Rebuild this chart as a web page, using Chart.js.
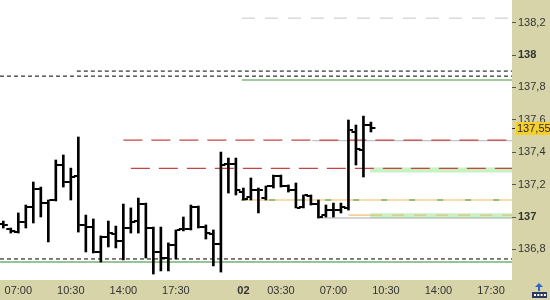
<!DOCTYPE html>
<html><head><meta charset="utf-8">
<script src="https://cdn.jsdelivr.net/npm/chart.js@4"></script>
<style>html,body{margin:0;padding:0;background:#fff;overflow:hidden}#wrap{width:550px;height:300px;position:relative}</style>
</head><body><div id="wrap"><canvas id="c"></canvas></div>
<script>
// ---- data (30-minute bars, x = bar index; 0 = day-1 07:00) ----
const barIndex = [-2,-1,0,1,2,3,4,5,6,7,8,9,10,11,12,13,14,15,16,17,18,19,20,21,22,23,24,25,26,27,28,29,30,31,32,33,34,35,36,37,38,39,40,41,42,43,44,45,46,47];
const openV  = [136.957,136.926,136.907,136.969,137.062,137.173,137.086,137.105,137.321,137.216,137.253,136.951,136.938,136.784,136.877,136.895,136.852,136.932,136.975,137.080,136.932,136.784,136.747,136.827,136.926,136.926,137.062,136.938,136.895,136.833,137.327,137.327,137.154,137.123,137.167,137.117,137.191,137.253,137.191,137.167,137.062,137.130,137.080,137.012,137.043,137.043,137.056,137.525,137.414,137.568];
const highV  = [136.975,136.932,137.025,137.074,137.216,137.185,137.105,137.352,137.383,137.302,137.494,137.012,136.988,136.883,136.975,136.944,137.080,137.056,137.117,137.086,136.938,136.938,136.840,136.920,137.000,137.074,137.068,136.951,136.920,137.401,137.364,137.364,137.179,137.241,137.179,137.191,137.259,137.259,137.198,137.210,137.136,137.136,137.105,137.074,137.086,137.086,137.599,137.568,137.623,137.586];
const lowV   = [136.932,136.901,136.901,136.932,136.963,137.000,136.846,137.099,137.185,137.105,136.907,136.784,136.778,136.722,136.815,136.809,136.735,136.901,136.901,136.747,136.648,136.667,136.667,136.741,136.914,136.920,136.932,136.864,136.698,136.660,137.148,137.136,137.105,137.105,137.025,137.105,137.179,137.185,137.154,137.056,137.056,137.074,136.994,137.000,137.000,137.025,137.043,137.321,137.247,137.525];
const closeV = [136.951,136.914,136.969,137.062,137.173,137.086,137.105,137.321,137.216,137.247,136.951,136.938,136.784,136.877,136.901,136.852,136.932,136.969,137.080,136.932,136.784,136.747,136.827,136.920,136.926,137.062,136.938,136.901,136.833,137.321,137.327,137.167,137.111,137.167,137.167,137.191,137.253,137.191,137.167,137.056,137.136,137.080,137.000,137.043,137.043,137.062,137.537,137.420,137.568,137.550];
const lastPrice = 137.55;

const xTickIndex  = [0,7,14,21,30,35,42,49,56,63];
const xTickLabels = ['07:00','10:30','14:00','17:30','02','03:30','07:00','10:30','14:00','17:30'];
const dayBreakTick = 30;
const yTickValues = [136.8,137.0,137.2,137.4,137.6,137.8,138.0,138.2];

const xMin = -2.44, xMax = 65.8;
const yMin = 136.611, yMax = 138.34;

// horizontal levels (value, from bar index, to bar index)
const levelNames  = ['topGrayDash','blackDashHi','blackDashLo','greenTop','grayHi','redHi','greenBandHi','redLo','orangeMid','greenDashMid','greenBandLo','orangeLoShort','orangeDashLo','grayLo','blackDashBottom','greenBottom'];
const levelValues = [138.228,137.901,137.870,137.846,137.471,137.475,137.290,137.300,137.105,137.105,137.007,137.012,137.012,136.994,136.741,136.722];
const levelFrom   = [29.8,7.8,xMin,29.8,39.2,14.0,46.9,15.0,29.7,29.7,46.9,44.0,46.9,39.8,xMin,xMin];
const levelTo     = [xMax,xMax,xMax,xMax,xMax,xMax,xMax,xMax,xMax,xMax,xMax,46.9,xMax,xMax,xMax,xMax];

// ---- styles ----
const levelStyle = {
  topGrayDash:    {color:'#c6c6c6', width:1,   dash:[13,10]},
  blackDashHi:    {color:'#000000', width:1,   dash:[4,3]},
  blackDashLo:    {color:'#000000', width:1,   dash:[4,3]},
  greenTop:       {color:'#3c9c3c', width:1,   dash:[]},
  grayHi:         {color:'#b4b4b4', width:1,   dash:[]},
  redHi:          {color:'#c84444', width:1.3, dash:[19,9]},
  greenBandHi:    {color:'#c8f2c4', width:5,   dash:[]},
  redLo:          {color:'#c84444', width:1.3, dash:[19,9]},
  orangeMid:      {color:'#f2b860', width:1.2, dash:[]},
  greenDashMid:   {color:'#3c9c3c', width:1.2, dash:[6,22]},
  greenBandLo:    {color:'#c8f2c4', width:5,   dash:[]},
  orangeLoShort:  {color:'#f2b860', width:1.2, dash:[]},
  orangeDashLo:   {color:'#d9c27a', width:1.2, dash:[12,10]},
  grayLo:         {color:'#a8a8a8', width:1,   dash:[]},
  blackDashBottom:{color:'#000000', width:1,   dash:[4,3]},
  greenBottom:    {color:'#2f8a2f', width:1,   dash:[]}
};
const FONT = '"Liberation Sans", Arial, sans-serif';
const AXIS_BG = '#d7d4a9';

const datasets = [];
datasets.push({
  type:'bar', label:'HL', order:0,
  data: barIndex.map((k,i)=>({x:k, y:[lowV[i], highV[i]]})),
  backgroundColor:'#000', borderWidth:0, barThickness:2, grouped:false
});
levelNames.forEach((n,i)=>{
  const s = levelStyle[n];
  datasets.push({
    type:'line', label:n, order:100-i,
    data:[{x:levelFrom[i], y:levelValues[i]},{x:levelTo[i], y:levelValues[i]}],
    borderColor:s.color, borderWidth:s.width, borderDash:s.dash,
    pointRadius:0, fill:false, tension:0
  });
});

const bgPlugin = {
  id:'bg',
  beforeDraw(chart){
    const {ctx, chartArea:a, width, height} = chart;
    ctx.save();
    ctx.fillStyle = AXIS_BG; ctx.fillRect(0,0,width,height);
    ctx.fillStyle = '#fff'; ctx.fillRect(a.left,a.top,a.right-a.left,a.bottom-a.top);
    ctx.restore();
  }
};
const ohlcTicks = {
  id:'ohlcTicks',
  afterDatasetsDraw(chart){
    const {ctx, chartArea:a, scales:{x,y}} = chart;
    ctx.save();
    ctx.beginPath(); ctx.rect(a.left,a.top,a.right-a.left,a.bottom-a.top); ctx.clip();
    ctx.fillStyle = '#000';
    barIndex.forEach((k,i)=>{
      const px = x.getPixelForValue(k);
      const yo = Math.round(y.getPixelForValue(openV[i]));
      const yc = Math.round(y.getPixelForValue(closeV[i]));
      ctx.fillRect(px-4.5, yo-1, 3.5, 2);
      ctx.fillRect(px+1, yc-1, 3.5, 2);
    });
    ctx.restore();
  }
};
const priceLabel = {
  id:'priceLabel',
  afterDraw(chart){
    const {ctx, chartArea:a, scales:{y}, width, height} = chart;
    const py = Math.round(y.getPixelForValue(lastPrice));
    ctx.save();
    ctx.fillStyle = '#333';
    ctx.fillRect(a.right, py, 3, 1);
    ctx.fillStyle = '#f7cf2c';
    ctx.fillRect(a.right+4, py-6, width-(a.right+4), 13);
    ctx.fillStyle = '#2a2a2a';
    ctx.font = '11px ' + FONT;
    ctx.textBaseline = 'middle';
    ctx.fillText(lastPrice.toFixed(2).replace('.',','), a.right+5, py+1);
    // corner icon
    const ix = width-18, iy = height-17;
    ctx.fillStyle = '#2b66c8';
    ctx.beginPath(); ctx.moveTo(ix+7,iy); ctx.lineTo(ix+11,iy+4); ctx.lineTo(ix+3,iy+4); ctx.closePath(); ctx.fill();
    ctx.fillRect(ix+6, iy+4, 2, 4);
    ctx.fillStyle = '#2a3a5a';
    ctx.fillRect(ix, iy+9, 15, 6);
    ctx.fillStyle = '#fff';
    for (let d=0; d<4; d++) ctx.fillRect(ix+2+d*3.3, iy+11, 2, 2);
    ctx.restore();
  }
};

new Chart(document.getElementById('c'), {
  data:{datasets},
  options:{
    responsive:true, maintainAspectRatio:false, animation:false,
    layout:{padding:0},
    plugins:{legend:{display:false}, tooltip:{enabled:false}},
    scales:{
      x:{
        type:'linear', min:xMin, max:xMax, offset:false,
        grid:{display:false, drawTicks:false}, border:{display:false},
        afterBuildTicks:s=>{ s.ticks = xTickIndex.map(v=>({value:v})); },
        afterFit:s=>{ s.height = 20; s.paddingLeft = 0; s.paddingRight = 0; },
        ticks:{
          autoSkip:false, maxRotation:0, padding:4, color:'#333',
          font:c=>({family:FONT, size:11, weight:(c.tick && c.tick.value===dayBreakTick)?'bold':'normal'}),
          callback:v=>xTickLabels[xTickIndex.indexOf(v)]
        }
      },
      y:{
        type:'linear', position:'right', min:yMin, max:yMax,
        grid:{drawOnChartArea:false, drawTicks:true, tickLength:4, color:'#555'}, border:{display:false},
        afterBuildTicks:s=>{ s.ticks = yTickValues.map(v=>({value:v})); },
        afterFit:s=>{ s.width = 38; s.paddingTop = 0; s.paddingBottom = 0; },
        ticks:{
          padding:2, color:'#333',
          font:c=>({family:FONT, size:11, weight:(c.tick && Math.abs(c.tick.value-Math.round(c.tick.value))<1e-6)?'bold':'normal'}),
          callback:v=>(Math.abs(v-Math.round(v))<1e-6 ? String(Math.round(v)) : v.toFixed(1).replace('.',','))
        }
      }
    }
  },
  plugins:[bgPlugin, ohlcTicks, priceLabel]
});
</script></body></html>
